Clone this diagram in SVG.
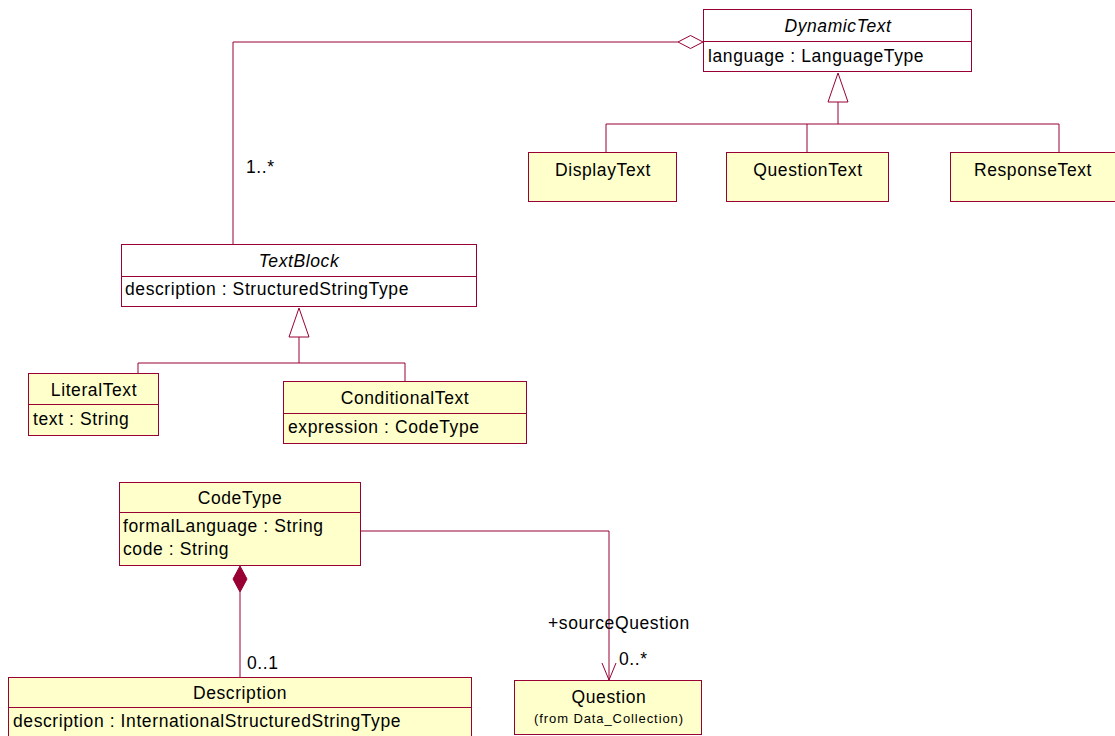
<svg xmlns="http://www.w3.org/2000/svg" width="1115" height="736" viewBox="0 0 1115 736">
  <style>
    .cls { fill: #ffffcc; stroke: #990033; stroke-width: 1; }
    .abs { fill: #ffffff; stroke: #990033; stroke-width: 1; }
    .sep { stroke: #990033; stroke-width: 1; }
    .edge { fill: none; stroke: #990033; stroke-width: 1; }
    text { font-family: "Liberation Sans", Arial, sans-serif; font-size: 17.5px; fill: #000; letter-spacing: 0.6px; }
    .name { text-anchor: middle; }
    .it { font-style: italic; }
    .small { font-size: 13px; letter-spacing: 0.9px; }
  </style>
  <rect width="1115" height="736" fill="#ffffff"/>

  <g id="connectors">
    <!-- aggregation: DynamicText 1..* TextBlock -->
    <polyline class="edge" points="233,244 233,42 678,42"/>
    <polygon points="678,42 690.5,35.5 703,42 690.5,48.5" fill="#ffffff" stroke="#990033"/>
    <text x="246" y="173">1..*</text>

    <!-- generalization: DynamicText subclasses -->
    <polygon points="838,73 828,102 848,102" fill="#ffffff" stroke="#990033"/>
    <polyline class="edge" points="838,102 838,124"/>
    <polyline class="edge" points="606,152 606,124 1059,124 1059,152"/>
    <polyline class="edge" points="807,124 807,152"/>

    <!-- generalization: TextBlock subclasses -->
    <polygon points="299,308 289,337 309,337" fill="#ffffff" stroke="#990033"/>
    <polyline class="edge" points="299,337 299,363"/>
    <polyline class="edge" points="138,373 138,363 405,363 405,381"/>

    <!-- composition: CodeType 0..1 Description -->
    <polygon points="240,566 247,579 240,592 233,579" fill="#990033" stroke="#990033"/>
    <polyline class="edge" points="240,592 240,677"/>
    <text x="247" y="669">0..1</text>

    <!-- association: CodeType -> Question -->
    <polyline class="edge" points="360,531 609,531 609,680"/>
    <polyline class="edge" points="602,663 609,680 616,663"/>
    <text x="548" y="629">+sourceQuestion</text>
    <text x="619" y="665">0..*</text>
  </g>

  <g id="DynamicText">
    <rect class="abs" x="703.5" y="9.5" width="268" height="62"/>
    <line class="sep" x1="703.5" y1="41.5" x2="971.5" y2="41.5"/>
    <text class="name it" x="838" y="32">DynamicText</text>
    <text x="708" y="62">language : LanguageType</text>
  </g>

  <g id="DisplayText">
    <rect class="cls" x="528.5" y="152.5" width="148" height="49"/>
    <text class="name" x="603" y="176">DisplayText</text>
  </g>

  <g id="QuestionText">
    <rect class="cls" x="726.5" y="152.5" width="162" height="49"/>
    <text class="name" x="808" y="176">QuestionText</text>
  </g>

  <g id="ResponseText">
    <rect class="cls" x="950.5" y="152.5" width="168" height="49"/>
    <text class="name" x="1033" y="176">ResponseText</text>
  </g>

  <g id="TextBlock">
    <rect class="abs" x="121.5" y="244.5" width="355" height="62"/>
    <line class="sep" x1="121.5" y1="276.5" x2="476.5" y2="276.5"/>
    <text class="name it" x="299" y="267">TextBlock</text>
    <text x="125" y="295">description : StructuredStringType</text>
  </g>

  <g id="LiteralText">
    <rect class="cls" x="28.5" y="373.5" width="130" height="62"/>
    <line class="sep" x1="28.5" y1="404.5" x2="158.5" y2="404.5"/>
    <text class="name" x="94" y="396">LiteralText</text>
    <text x="33" y="425">text : String</text>
  </g>

  <g id="ConditionalText">
    <rect class="cls" x="283.5" y="381.5" width="243" height="62"/>
    <line class="sep" x1="283.5" y1="413.5" x2="526.5" y2="413.5"/>
    <text class="name" x="405" y="404">ConditionalText</text>
    <text x="288" y="433">expression : CodeType</text>
  </g>

  <g id="CodeType">
    <rect class="cls" x="119.5" y="482.5" width="241" height="83"/>
    <line class="sep" x1="119.5" y1="512.5" x2="360.5" y2="512.5"/>
    <text class="name" x="240" y="504">CodeType</text>
    <text x="123" y="532">formalLanguage : String</text>
    <text x="123" y="555">code : String</text>
  </g>

  <g id="Description">
    <rect class="cls" x="8.5" y="677.5" width="463" height="70"/>
    <line class="sep" x1="8.5" y1="707.5" x2="471.5" y2="707.5"/>
    <text class="name" x="240" y="699">Description</text>
    <text x="13" y="727">description : InternationalStructuredStringType</text>
  </g>

  <g id="Question">
    <rect class="cls" x="514.5" y="680.5" width="187" height="54"/>
    <text class="name" x="609" y="703">Question</text>
    <text class="name small" x="609" y="723">(from Data_Collection)</text>
  </g>
</svg>
